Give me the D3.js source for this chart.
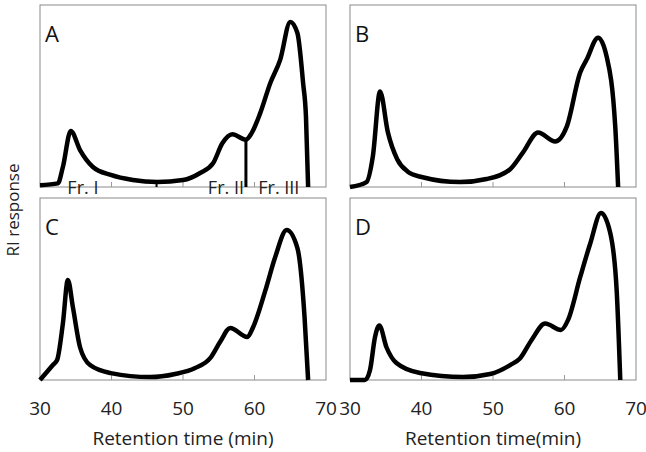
<!DOCTYPE html>
<meta charset="utf-8">
<script src="https://d3js.org/d3.v7.min.js"></script>
<style>
body {margin: 0; background: #fff;}
text {font-family: "Open Sans", sans-serif;}
</style>
<div id="chart"></div>
<script>
// retention time (min) and RI response (arbitrary units, 0-100)
var timesA = [30, 32.5, 33.2, 34.3, 35.6, 37.4, 39.9, 43, 46.4, 50, 52.4, 54.2, 55.5, 56.9, 58.8, 59.6, 60.8, 62.2, 63.6, 65, 66, 66.8, 67.2, 67.5];
var respA  = [1, 2, 11, 30.8, 20.3, 11, 6.6, 3.8, 2.7, 3.8, 7.7, 13, 24, 29, 26, 29.6, 40.6, 57, 70, 90.7, 84.6, 57, 38.5, 0];

var timesB = [30, 32.3, 33.2, 34.2, 35.3, 36.6, 38, 40, 45.4, 49.1, 52.4, 54.2, 56.3, 58.7, 60.3, 62.2, 63.1, 64.7, 65.9, 67.1, 67.5];
var respB  = [0, 2.7, 17, 52.5, 30, 15.3, 8.7, 5.5, 2.7, 4.4, 9.8, 19, 30, 25, 33, 63, 70, 82, 71.6, 33, 0];

var timesC = [30, 31.8, 32.4, 33.2, 33.9, 34.6, 35.6, 37, 39.9, 45.4, 48.9, 51.7, 53.8, 55.2, 56.6, 59, 59.8, 61.5, 62.9, 64.5, 66, 67, 67.5];
var respC  = [0, 8.2, 11, 31, 55, 40, 18, 8.2, 3.8, 1.6, 3.3, 6.6, 12, 21, 28.6, 23.6, 29, 49, 67.6, 82.4, 72.5, 34.6, 0];

var timesD = [30, 32.1, 32.8, 33.5, 34.1, 35.1, 36.5, 39.8, 45.8, 49.6, 52.4, 53.8, 55.4, 57.3, 59.5, 60.5, 62.2, 63.6, 65.1, 66.4, 67.3, 67.8];
var respD  = [0, 0, 5.5, 23.6, 30, 18, 9.3, 3.8, 1.6, 3.3, 8.2, 12, 22, 31, 27.5, 33, 56.6, 75, 91.8, 80.8, 49, 0];

var panelNames = ["A", "B", "C", "D"];
var tickValues = [30, 40, 50, 60, 70];
var fractionNames = ["Fr. I", "Fr. II", "Fr. III"];
var fractionCenters = [36.0, 56.0, 63.4];
var cutTimes = [46.3, 58.8];

var width = 646, height = 452;
var svg = d3.select("#chart").append("svg")
	.attr("width", width)
	.attr("height", height);

var panels = [
	{name: "A", x: 40, y: 5, t: timesA, r: respA},
	{name: "B", x: 350, y: 5, t: timesB, r: respB},
	{name: "C", x: 40, y: 198, t: timesC, r: respC},
	{name: "D", x: 350, y: 198, t: timesD, r: respD}
];
var pw = 286, ph = 182;

var x = d3.scaleLinear().domain([30, 70]).range([0, pw]);
var y = d3.scaleLinear().domain([0, 100]).range([ph, 0]);

panels.forEach(function(p, i) {
	var g = svg.append("g").attr("transform", "translate(" + p.x + "," + p.y + ")");

	g.append("rect")
		.attr("x", 0).attr("y", 0)
		.attr("width", pw).attr("height", ph)
		.attr("fill", "none")
		.attr("stroke", "#8a8a8a")
		.attr("stroke-width", 1);

	// inner ticks
	[40, 50, 60].forEach(function(t) {
		g.append("line")
			.attr("x1", x(t)).attr("x2", x(t))
			.attr("y1", ph).attr("y2", ph - 5)
			.attr("stroke", "#9a9a9a");
	});

	var pts = p.t.map(function(t, k) { return [t, p.r[k]]; });
	var line = d3.line()
		.x(function(d) { return x(d[0]); })
		.y(function(d) { return y(d[1]); })
		.curve(d3.curveMonotoneX);

	g.append("path")
		.datum(pts)
		.attr("d", line)
		.attr("fill", "none")
		.attr("stroke", "#000")
		.attr("stroke-width", 4.5)
		.attr("stroke-linejoin", "round");

	g.append("text")
		.attr("x", 5).attr("y", 37)
		.attr("font-size", 22)
		.attr("fill", "#111")
		.text(panelNames[i]);

	if (p.name == "A") {
		g.append("line")
			.attr("x1", x(cutTimes[0])).attr("x2", x(cutTimes[0]))
			.attr("y1", ph).attr("y2", ph - 5)
			.attr("stroke", "#000").attr("stroke-width", 2);
		g.append("line")
			.attr("x1", x(cutTimes[1])).attr("x2", x(cutTimes[1]))
			.attr("y1", ph).attr("y2", y(26.5))
			.attr("stroke", "#000").attr("stroke-width", 3);
		fractionNames.forEach(function(f, k) {
			g.append("text")
				.attr("x", x(fractionCenters[k]))
				.attr("y", ph + 7)
				.attr("text-anchor", "middle")
				.attr("font-size", 18)
				.attr("fill", "#222")
				.text(f);
		});
	}

	if (p.name == "C" || p.name == "D") {
		tickValues.forEach(function(t) {
			g.append("text")
				.attr("x", x(t))
				.attr("y", ph + 35)
				.attr("text-anchor", "middle")
				.attr("font-size", 19)
				.attr("fill", "#222")
				.text(t);
		});
		g.append("text")
			.attr("x", pw / 2)
			.attr("y", ph + 65)
			.attr("text-anchor", "middle")
			.attr("font-size", 19)
			.attr("fill", "#222")
			.text(p.name == "C" ? "Retention time (min)" : "Retention time(min)");
	}
});

svg.append("text")
	.attr("transform", "translate(19,210) rotate(-90)")
	.attr("text-anchor", "middle")
	.attr("font-size", 17)
	.attr("fill", "#222")
	.text("RI response");
</script>
